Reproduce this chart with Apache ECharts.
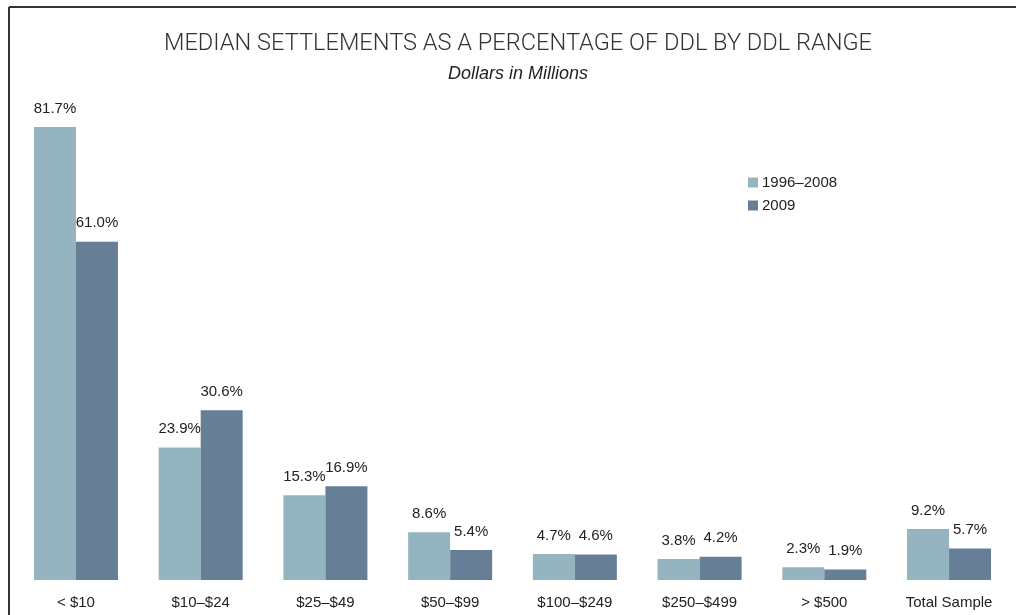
<!DOCTYPE html>
<html lang="en">
<head>
    <meta charset="UTF-8">
    <script src="https://cdn.jsdelivr.net/npm/echarts@6/dist/echarts.min.js"></script>
    <style>
        html, body { margin: 0; padding: 0; background: #ffffff; }
        #chart { width: 1016px; height: 615px; }
    </style>
</head>
<body>
<div id="chart"></div>
<script type="text/javascript">
    const categories = ['< $10', '$10–$24', '$25–$49', '$50–$99', '$100–$249', '$250–$499', '> $500', 'Total Sample'];
    const seriesNames = ['1996–2008', '2009'];
    const values1996_2008 = [81.7, 23.9, 15.3, 8.6, 4.7, 3.8, 2.3, 9.2];
    const values2009 = [61.0, 30.6, 16.9, 5.4, 4.6, 4.2, 1.9, 5.7];
    const colors = ['#94b5c0', '#667f96'];

    const chart = echarts.init(document.getElementById('chart'));

    function barSeries(name, data, color) {
        return {
            name: name,
            type: 'bar',
            data: data,
            barWidth: 42,
            barGap: '0%',
            itemStyle: { color: color },
            label: {
                show: true,
                position: 'top',
                distance: 11,
                formatter: function (p) { return p.value.toFixed(1) + '%'; },
                fontFamily: 'Liberation Sans',
                fontSize: 15,
                color: '#222'
            }
        };
    }

    chart.setOption({
        animation: false,
        title: {
            text: 'MEDIAN SETTLEMENTS AS A PERCENTAGE OF DDL BY DDL RANGE',
            subtext: 'Dollars in Millions',
            left: 513,
            textAlign: 'center',
            top: 27,
            itemGap: 9,
            textStyle: {
                fontFamily: 'Roboto',
                fontWeight: 300,
                fontSize: 23.6,
                color: '#333'
            },
            subtextStyle: {
                fontFamily: 'Liberation Sans',
                fontStyle: 'italic',
                fontSize: 18,
                color: '#222'
            }
        },
        legend: {
            orient: 'vertical',
            left: 743,
            top: 170,
            itemWidth: 10,
            itemHeight: 10,
            itemGap: 8,
            icon: 'rect',
            data: seriesNames,
            textStyle: { fontFamily: 'Liberation Sans', fontSize: 15, color: '#222', padding: [0, 0, 0, -1] }
        },
        graphic: [
            { type: 'line', shape: { x1: 9, y1: 7, x2: 1016, y2: 7 }, style: { stroke: '#333', lineWidth: 2 } },
            { type: 'line', shape: { x1: 9, y1: 7, x2: 9, y2: 615 }, style: { stroke: '#333', lineWidth: 2 } }
        ],
        grid: { left: 13.6, right: 4.6, top: 25.5, bottom: 35 },
        xAxis: {
            type: 'category',
            data: categories,
            axisLine: { show: false },
            axisTick: { show: false },
            axisLabel: {
                fontFamily: 'Liberation Sans',
                fontSize: 15,
                color: '#222',
                margin: 15,
                interval: 0
            }
        },
        yAxis: {
            type: 'value',
            min: 0,
            max: 100,
            show: false,
            splitLine: { show: false }
        },
        series: [
            barSeries(seriesNames[0], values1996_2008, colors[0]),
            barSeries(seriesNames[1], values2009, colors[1])
        ]
    });
</script>
</body>
</html>
